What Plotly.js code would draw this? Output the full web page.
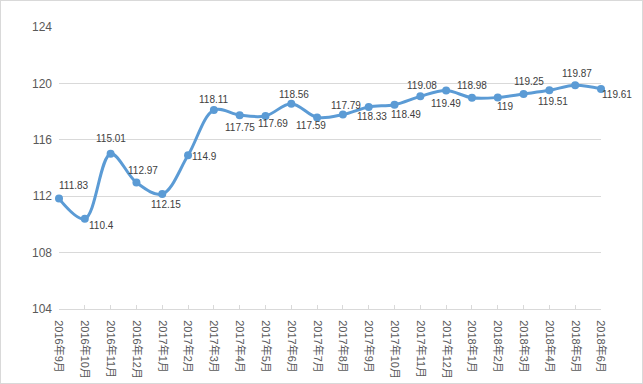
<!DOCTYPE html>
<html><head><meta charset="utf-8">
<script src="https://cdn.plot.ly/plotly-3.0.1.min.js"></script>
<style>html,body{margin:0;padding:0;background:#fff;}#c{width:643px;height:384px;box-sizing:border-box;border:1px solid #d9d9d9;}</style>
</head><body><div id="c"></div>
<script>
const months = ["2016年9月","2016年10月","2016年11月","2016年12月","2017年1月","2017年2月","2017年3月","2017年4月","2017年5月","2017年6月","2017年7月","2017年8月","2017年9月","2017年10月","2017年11月","2017年12月","2018年1月","2018年2月","2018年3月","2018年4月","2018年5月","2018年6月"];
const values = [111.83,110.4,115.01,112.97,112.15,114.9,118.11,117.75,117.69,118.56,117.59,117.79,118.33,118.49,119.08,119.49,118.98,119,119.25,119.51,119.87,119.61];
const yTicks = [104,108,112,116,120,124];
// label placement (style only): pixel offsets of each data label from its point [dx, dy(down)]
const labelDx = [15,17,0,7,4,16,0,0,8,3,-6,3,3,11,2,0,0,7,5,4,2,16];
const labelDy = [-13,7,-15,-12,10,1,-11,12,8,-9,8,-9,10,10,-11,13,-12,9,-12,11,-12,6];
const font = "Liberation Sans, Arial, Noto Sans CJK SC, sans-serif";
const xs = months.map((m,i)=>i);
const trace = {
  x: xs, y: values, type: "scatter", mode: "lines+markers",
  line: {color: "#5B9BD5", width: 3, shape: "spline", smoothing: 1},
  marker: {color: "#5B9BD5", size: 8},
  cliponaxis: false, hoverinfo: "none"
};
const annotations = values.map((v,i)=>({
  x: xs[i], y: v, xref: "x", yref: "y", text: String(v), showarrow: false,
  xanchor: "center", yanchor: "middle", xshift: labelDx[i], yshift: -labelDy[i],
  font: {family: font, size: 10, color: "#404040"}
}));
const layout = {
  width: 641, height: 382,
  margin: {l: 58, r: 41, t: 26, b: 74},
  paper_bgcolor: "#fff", plot_bgcolor: "#fff",
  showlegend: false,
  font: {family: font, color: "#595959", size: 12},
  annotations: annotations,
  xaxis: {
    range: [0, 21], tickvals: xs, ticktext: months,
    tickangle: 90, tickfont: {family: font, size: 11, color: "#595959"},
    showgrid: false, zeroline: false, showline: true, linecolor: "#d9d9d9", linewidth: 1,
    ticks: "inside", ticklen: 4, tickcolor: "#d9d9d9", ticklabelstandoff: 8, fixedrange: true
  },
  yaxis: {
    range: [104, 124], tickvals: yTicks, ticktext: yTicks.map(String),
    showgrid: true, gridcolor: "#d9d9d9", gridwidth: 1, zeroline: false,
    showline: false, ticks: "", tickfont: {family: font, size: 12, color: "#595959"},
    ticklabelstandoff: 6, fixedrange: true
  }
};
Plotly.newPlot("c", [trace], layout, {displayModeBar: false, staticPlot: true});
</script></body></html>
